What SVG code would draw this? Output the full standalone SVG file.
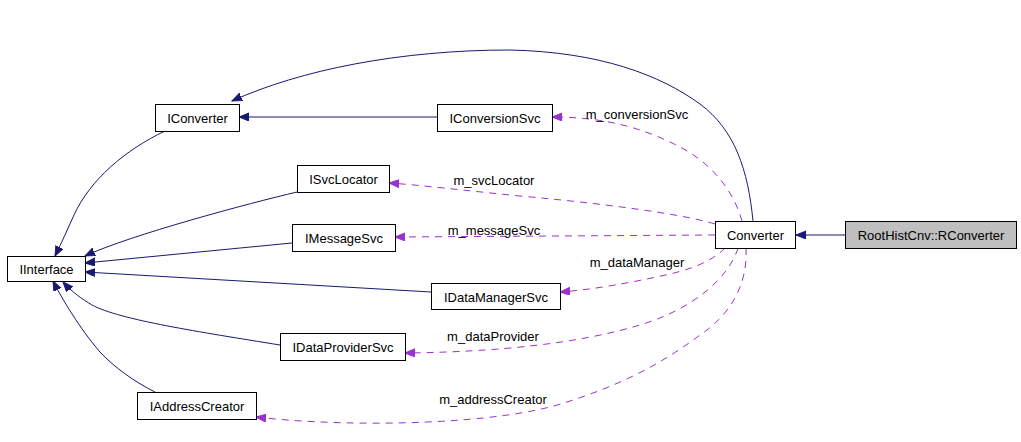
<svg xmlns="http://www.w3.org/2000/svg" width="1021" height="442" viewBox="0 0 1021 442">
<style>
.node rect{fill:#ffffff;stroke:#000000;stroke-width:1}
.node.cur rect{fill:#bfbfbf}
text{font-family:"Liberation Sans",Arial,sans-serif;font-size:13px;fill:#000000}
.node text{text-anchor:middle}
.lbl{text-anchor:middle}
.inh{fill:none;stroke:#191970;stroke-width:1;marker-end:url(#ab)}
.use{fill:none;stroke:#9a32cd;stroke-width:1;stroke-dasharray:7,6;marker-end:url(#ap)}
</style>
<defs>
<marker id="ab" markerUnits="userSpaceOnUse" markerWidth="11" markerHeight="9" refX="10" refY="4" orient="auto"><path d="M0,0 L10,4 L0,8 z" fill="#191970" stroke="#191970"/></marker>
<marker id="ap" markerUnits="userSpaceOnUse" markerWidth="11" markerHeight="9" refX="10" refY="4" orient="auto"><path d="M0,0 L10,4 L0,8 z" fill="#9a32cd" stroke="#9a32cd"/></marker>
</defs>
<rect width="1021" height="442" fill="#ffffff"/>
<g id="edges">
<path class="inh" d="M845,235 L796,235"/>
<path class="inh" d="M753,221 C748,170 735,130 700,104 C660,75 600,52 510,50 C400,50 300,70 232,101"/>
<path class="inh" d="M437,117 L239,117"/>
<path class="inh" d="M165,131 C125,150 90,180 74,215 C68,228 62,242 55,256"/>
<path class="inh" d="M297,192 C250,203 130,235 85,256"/>
<path class="inh" d="M292,243 L85,263"/>
<path class="inh" d="M431,292 L85,272"/>
<path class="inh" d="M280,345 C200,332 120,320 92,305 C82,299 72,292 63,282"/>
<path class="inh" d="M155,392 C135,382 115,368 100,352 C85,335 65,305 53,281"/>
<path class="use" d="M742,221 C735,195 715,165 680,147 C640,126 600,117 552,117"/>
<path class="use" d="M715,224 C690,216 620,205 520,196 C460,190 420,185 389,183"/>
<path class="use" d="M715,235 L395,237"/>
<path class="use" d="M725,248 C715,258 700,267 670,274 C630,283 590,290 560,292"/>
<path class="use" d="M738,248 C728,280 690,310 640,325 C580,343 500,352 405,353"/>
<path class="use" d="M746,248 C748,285 730,315 700,335 C660,365 620,385 567,402 C500,425 350,428 256,417"/>
<text class="lbl" x="637" y="119">m_conversionSvc</text>
<text class="lbl" x="494" y="185">m_svcLocator</text>
<text class="lbl" x="494" y="235">m_messageSvc</text>
<text class="lbl" x="637" y="267">m_dataManager</text>
<text class="lbl" x="493" y="341">m_dataProvider</text>
<text class="lbl" x="493" y="404">m_addressCreator</text>
</g>
<g id="n_RConverter" class="node cur"><rect x="845.5" y="221.5" width="171" height="27"/><text x="931" y="240">RootHistCnv::RConverter</text></g>
<g id="n_Converter" class="node"><rect x="715.5" y="221.5" width="80" height="27"/><text x="755.5" y="240">Converter</text></g>
<g id="n_IConverter" class="node"><rect x="155.5" y="104.5" width="84" height="27"/><text x="197.5" y="123">IConverter</text></g>
<g id="n_IConversionSvc" class="node"><rect x="437.5" y="104.5" width="115" height="27"/><text x="495" y="123">IConversionSvc</text></g>
<g id="n_ISvcLocator" class="node"><rect x="297.5" y="165.5" width="92" height="27"/><text x="343.5" y="184">ISvcLocator</text></g>
<g id="n_IInterface" class="node"><rect x="7.5" y="256.5" width="78" height="25"/><text x="46.5" y="273.5">IInterface</text></g>
<g id="n_IMessageSvc" class="node"><rect x="292.5" y="224.5" width="103" height="27"/><text x="344" y="243">IMessageSvc</text></g>
<g id="n_IDataManagerSvc" class="node"><rect x="431.5" y="283.5" width="129" height="26"/><text x="496" y="301.5">IDataManagerSvc</text></g>
<g id="n_IDataProviderSvc" class="node"><rect x="280.5" y="333.5" width="125" height="27"/><text x="343" y="352">IDataProviderSvc</text></g>
<g id="n_IAddressCreator" class="node"><rect x="137.5" y="392.5" width="119" height="27"/><text x="197" y="411">IAddressCreator</text></g>
</svg>
